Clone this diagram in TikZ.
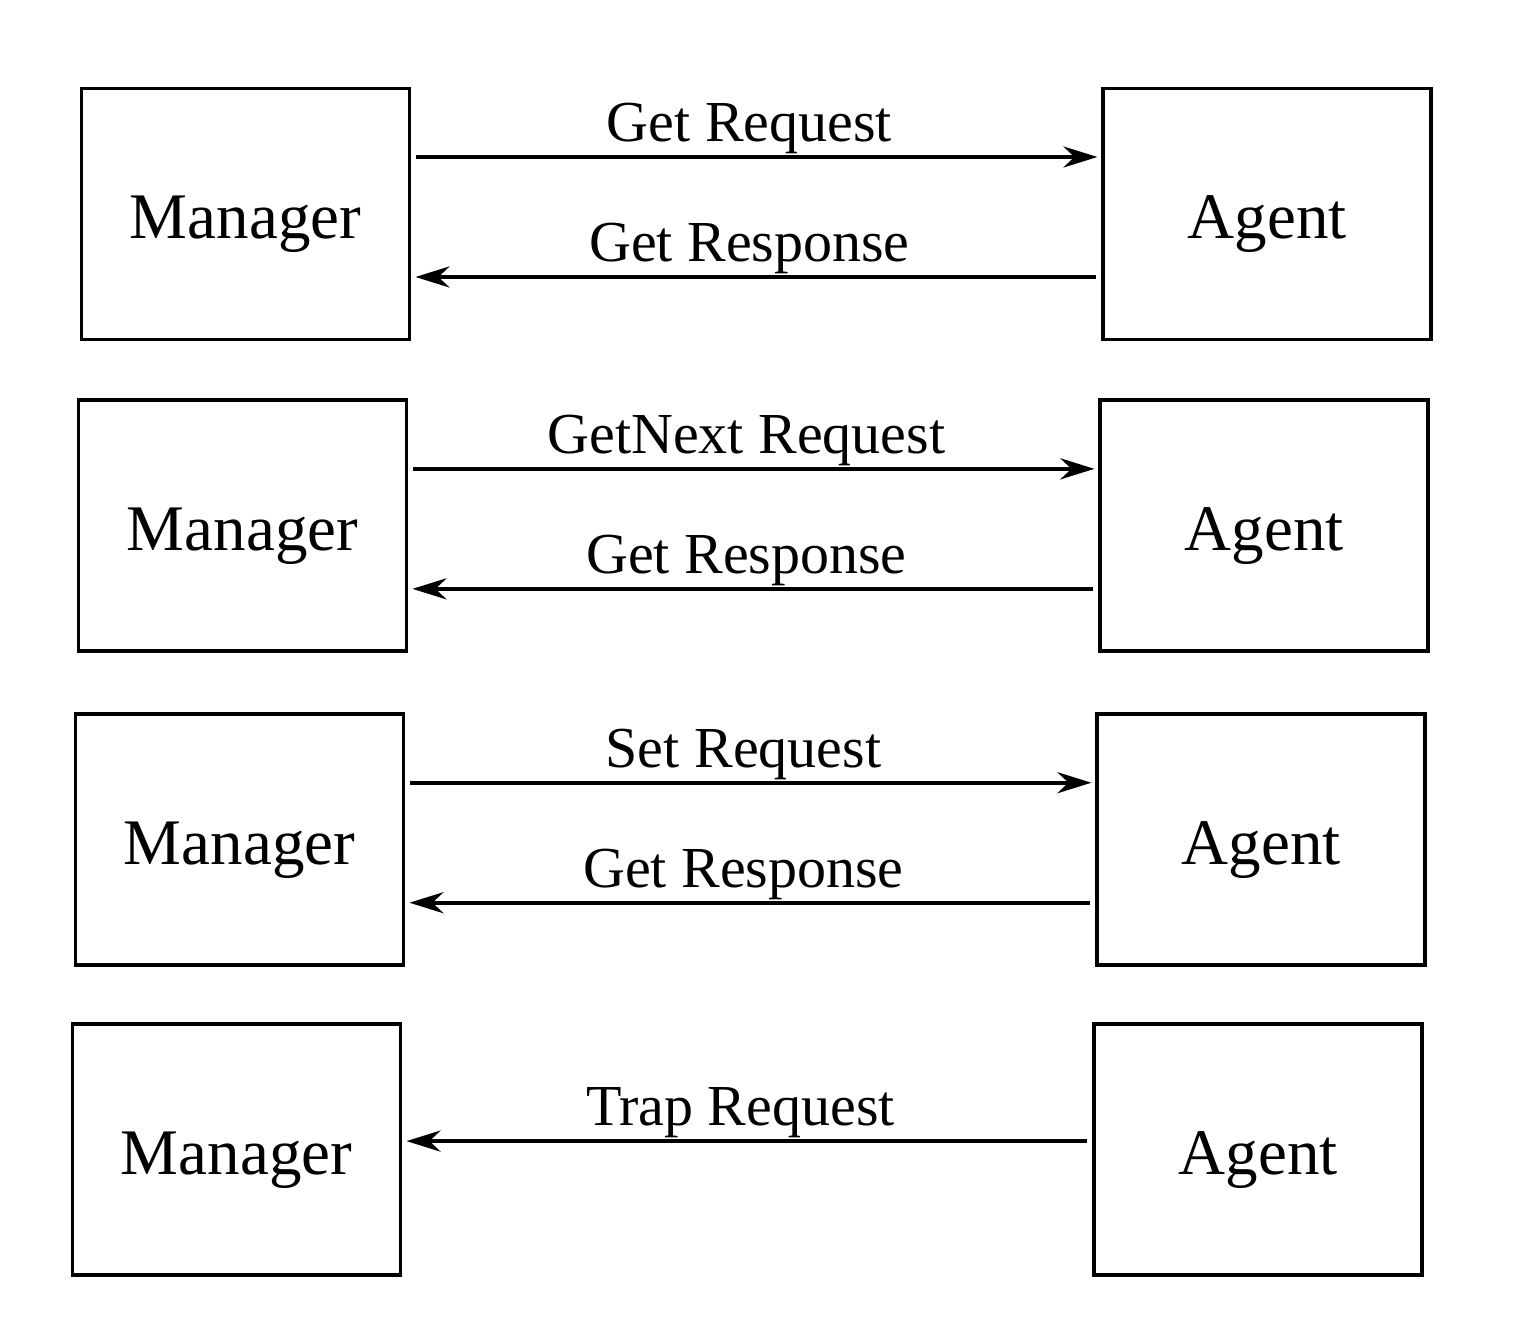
\documentclass[tikz,border=0pt]{standalone}
\usepackage{fontspec}
\setmainfont{Liberation Serif}
\usetikzlibrary{%
  positioning,%
  arrows.meta%
}

\begin{document}
\begin{tikzpicture}[
      box/.style={
        rectangle,
        draw,
        line width=1.1pt,
        minimum width=3.28cm,
        minimum height=2.51cm,
        text height=0.5cm,
        text depth=0pt,
        font=\fontsize{18.5}{20}\selectfont
      },
      node distance=0.57cm and 6.9cm,
      msg/.style={
        line width=1.2pt,
        -{Stealth[length=3.4mm,width=2.1mm,inset=1.1mm]},
        shorten <=0.5mm,
        shorten >=0.4mm
      },
      lbl/.style={
        above,
        inner sep=0.3pt,
        xshift=-0.7mm,
        font=\fontsize{16.5}{18}\selectfont
      }
    ]
    \useasboundingbox (0,0) rectangle (15.26,13.36);

    \node[box] (Manager1) at (2.455,11.22) {Manager};
    \node[box, right=of Manager1] (Agent1) {Agent};

    \node[box, below=of Manager1, xshift=-0.3mm] (Manager2) {Manager};
    \node[box, right=of Manager2] (Agent2) {Agent};

    \node[box, below=0.59cm of Manager2, xshift=-0.3mm] (Manager3) {Manager};
    \node[box, right=of Manager3] (Agent3) {Agent};

    \node[box, below=0.545cm of Manager3, xshift=-0.3mm] (Manager4) {Manager};
    \node[box, right=of Manager4] (Agent4) {Agent};

    \draw[msg] ([yshift=5.7mm]Manager1.east)
      -- node[lbl] {Get Request} ([yshift=5.7mm]Agent1.west);
    \draw[msg] ([yshift=-6.3mm]Agent1.west)
      -- node[lbl] {Get Response} ([yshift=-6.3mm]Manager1.east);

    \draw[msg] ([yshift=5.7mm]Manager2.east)
      -- node[lbl] {GetNext Request} ([yshift=5.7mm]Agent2.west);
    \draw[msg] ([yshift=-6.3mm]Agent2.west)
      -- node[lbl] {Get Response} ([yshift=-6.3mm]Manager2.east);

    \draw[msg] ([yshift=5.7mm]Manager3.east)
      -- node[lbl] {Set Request} ([yshift=5.7mm]Agent3.west);
    \draw[msg] ([yshift=-6.3mm]Agent3.west)
      -- node[lbl] {Get Response} ([yshift=-6.3mm]Manager3.east);

    \draw[msg] ([yshift=0.8mm]Agent4.west)
      -- node[lbl] {Trap Request} ([yshift=0.8mm]Manager4.east);
  \end{tikzpicture}
\end{document}
